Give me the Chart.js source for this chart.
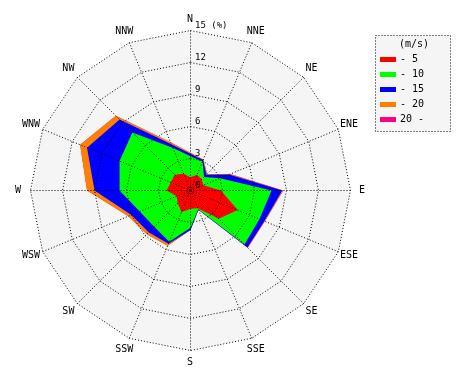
<!DOCTYPE html>
<html>
<head>
<meta charset="utf-8">
<script src="https://cdn.jsdelivr.net/npm/chart.js@4.4.0/dist/chart.umd.min.js"></script>
<style>
html,body{margin:0;padding:0;background:#fff;}
#wrap{width:470px;height:380px;position:relative;}
</style>
</head>
<body>
<div id="wrap"><canvas id="c" width="470" height="380"></canvas></div>
<script>
// Directions (clockwise from north)
const directions = ['N','NNE','NE','ENE','E','ESE','SE','SSE','S','SSW','SW','WSW','W','WNW','NW','NNW'];
// Legend labels (wind speed classes, m/s)
const speedClasses = ['- 5','- 10','- 15','- 20','20 -'];
const speedColors = ['#ff0000','#00ff00','#0000ff','#ff8000','#ff0080'];
// Radial tick values (%)
const radialTicks = [0,3,6,9,12,15];
const unitLabel = '(%)';
const legendTitle = '(m/s)';

// Cumulative frequency (%) read from the rose, per speed class
const upTo5  = [1.25,1.6,1.5,1.3,2.85,4.8,3.75,1.8,1.7,2.2,1.7,1.4,2.25,2.0,2.1,1.7];
const upTo10 = [3.2,2.95,1.8,3.0,7.6,7.0,7.15,1.9,3.5,5.2,4.8,5.15,6.65,7.2,7.7,4.3];
const upTo15 = [3.45,3.1,2.1,3.9,8.6,7.5,7.55,1.95,3.7,5.4,5.55,6.0,9.0,10.5,9.4,4.7];
const upTo20 = [3.55,3.15,2.2,4.05,8.7,7.55,7.6,1.95,3.7,5.6,5.8,6.3,9.7,11.2,9.9,4.9];
const above20 = [3.55,3.15,2.2,4.05,8.7,7.55,7.6,1.95,3.7,5.6,5.8,6.3,9.7,11.2,9.9,4.9];

const seriesValues = [upTo5, upTo10, upTo15, upTo20, above20];

const datasets = seriesValues.map((vals, i) => ({
  label: speedClasses[i],
  data: vals,
  backgroundColor: speedColors[i],
  borderColor: speedColors[i],
  borderWidth: 0,
  pointRadius: 0,
  pointHoverRadius: 0,
  fill: 'origin',
  tension: 0
}));

const MONO = '"DejaVu Sans Mono", "Liberation Mono", monospace';

const overlay = {
  id: 'overlay',
  beforeDraw(chart) {
    chart.ctx.save();
    chart.ctx.translate(0.5, 0.5);
  },
  beforeDatasetsDraw(chart) {
    // Polygon background of the rose, under the data
    const ctx = chart.ctx;
    const s = chart.scales.r;
    ctx.save();
    ctx.beginPath();
    directions.forEach((d, i) => {
      const p = s.getPointPosition(i, s.drawingArea);
      if (i === 0) ctx.moveTo(p.x, p.y); else ctx.lineTo(p.x, p.y);
    });
    ctx.closePath();
    ctx.fillStyle = '#f5f5f5';
    ctx.fill();
    ctx.restore();
  },
  afterDraw(chart) {
    const ctx = chart.ctx;
    ctx.restore();
    const s = chart.scales.r;
    ctx.save();
    // Tick labels along the north axis
    ctx.fillStyle = '#000';
    ctx.font = '9px ' + MONO;
    ctx.textAlign = 'left';
    ctx.textBaseline = 'middle';
    radialTicks.forEach((v, i) => {
      const d = s.getDistanceFromCenterForValue(v);
      let txt = String(v);
      if (i === radialTicks.length - 1) txt += ' ' + unitLabel;
      ctx.fillText(txt, s.xCenter + 5, s.yCenter - d - 4);
    });
    // Direction labels
    ctx.font = '10px ' + MONO;
    ctx.textAlign = 'center';
    directions.forEach((lab, i) => {
      const p = s.getPointPosition(i, s.drawingArea + 12);
      ctx.fillText(lab, p.x, p.y + (i === 0 ? 1 : 0));
    });
    // Legend box
    const lx = 375.5, ly = 35.5, lw = 75, lh = 96;
    ctx.fillStyle = '#f5f5f5';
    ctx.fillRect(lx, ly, lw, lh);
    ctx.strokeStyle = '#000';
    ctx.lineWidth = 1;
    ctx.setLineDash([1,2]);
    ctx.strokeRect(lx, ly, lw, lh);
    ctx.setLineDash([]);
    ctx.fillStyle = '#000';
    ctx.font = '10px ' + MONO;
    ctx.textAlign = 'center';
    ctx.fillText(legendTitle, 414, 44);
    ctx.textAlign = 'left';
    chart.data.datasets.forEach((ds, i) => {
      const y = 59.5 + i * 15;
      ctx.fillStyle = ds.backgroundColor;
      ctx.fillRect(380, y - 2.5, 16, 5);
      ctx.fillStyle = '#000';
      ctx.fillText(ds.label, 400, y);
    });
    ctx.restore();
  }
};

new Chart(document.getElementById('c'), {
  type: 'radar',
  data: { labels: directions, datasets: datasets },
  options: {
    responsive: false,
    animation: false,
    layout: { padding: { left: 30, top: 30, right: 120, bottom: 30 } },
    plugins: { legend: { display: false }, tooltip: { enabled: false } },
    elements: { line: { tension: 0, borderWidth: 0 }, point: { radius: 0 } },
    scales: {
      r: {
        min: 0,
        max: 15,
        ticks: { display: false, stepSize: 3 },
        pointLabels: { display: false },
        grid: { color: '#000', lineWidth: 1, borderDash: [1,2], z: 1 },
        border: { dash: [1,2] },
        angleLines: { color: '#000', lineWidth: 1, borderDash: [1,2] }
      }
    }
  },
  plugins: [overlay]
});
</script>
</body>
</html>
